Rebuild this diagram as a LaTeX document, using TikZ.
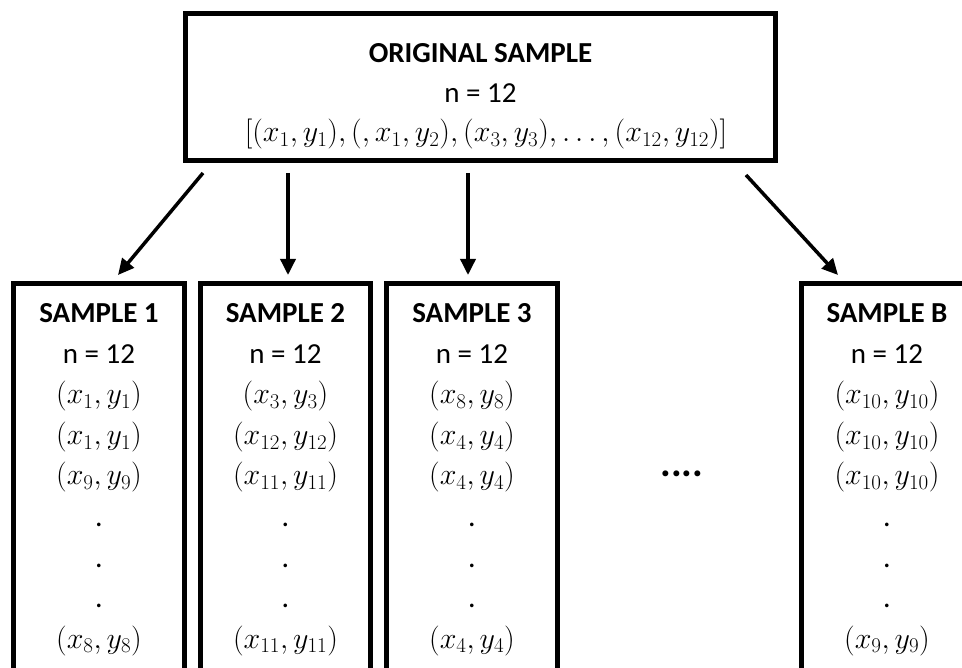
\RequirePackage{fix-cm}
\documentclass[tikz,border=0pt]{standalone}
\usepackage[no-math]{fontspec}
\setmainfont{Carlito}
\usetikzlibrary{arrows.meta}
\newcommand{\tightdots}{\mathinner{.\mkern3mu.\mkern3mu.}}
\begin{document}
\begin{tikzpicture}[x=1pt,y=-1pt,
  box/.style={draw, line width=5pt, rectangle, inner sep=0pt},
  txt/.style={anchor=base, inner sep=0pt, font=\fontsize{29}{35}\selectfont},
  ttl/.style={txt, font=\fontsize{29}{35}\selectfont\bfseries},
  mtxt/.style={anchor=base, inner sep=0pt, font=\fontsize{30}{36}\selectfont},
  arr/.style={line width=3.5pt, -{Triangle[length=16pt,width=15pt]}}]
\useasboundingbox (0,0) rectangle (962,668);
\clip (0,0) rectangle (962,668);

% top box
\node[box, minimum width=589.5pt, minimum height=146.5pt] (top) at (480.5,87.25) {};
\node[ttl] (t1) at (480.5,63) {ORIGINAL SAMPLE};
\node[txt] (t2) at (480.5,103) {n = 12};
\node[mtxt] (t3) at (486,142) {$[(x_1,y_1),(,x_1,y_2),(x_3,y_3),\tightdots,(x_{12},y_{12})]$};

% bottom boxes
\node[box, minimum width=171pt, minimum height=436.5pt] (b1) at (99,501.75) {};
\node[box, minimum width=170pt, minimum height=436.5pt] (b2) at (285.5,501.75) {};
\node[box, minimum width=171pt, minimum height=436.5pt] (b3) at (472,501.75) {};
\node[box, minimum width=171pt, minimum height=436.5pt] (bB) at (887,501.75) {};

% sample 1
\node[ttl] (s1a) at (99,323) {SAMPLE 1};
\node[txt] (s1b) at (99,364) {n = 12};
\node[mtxt] (s1c) at (99,404) {$(x_1,y_1)$};
\node[mtxt] (s1d) at (99,445) {$(x_1,y_1)$};
\node[mtxt] (s1e) at (99,485) {$(x_9,y_9)$};
\node[mtxt] (s1f) at (99,526) {.};
\node[mtxt] (s1g) at (99,567) {.};
\node[mtxt] (s1h) at (99,607) {.};
\node[mtxt] (s1i) at (99,648) {$(x_8,y_8)$};

% sample 2
\node[ttl] (s2a) at (285.5,323) {SAMPLE 2};
\node[txt] (s2b) at (285.5,364) {n = 12};
\node[mtxt] (s2c) at (285.5,404) {$(x_3,y_3)$};
\node[mtxt] (s2d) at (285.5,445) {$(x_{12},y_{12})$};
\node[mtxt] (s2e) at (285.5,485) {$(x_{11},y_{11})$};
\node[mtxt] (s2f) at (285.5,526) {.};
\node[mtxt] (s2g) at (285.5,567) {.};
\node[mtxt] (s2h) at (285.5,607) {.};
\node[mtxt] (s2i) at (285.5,648) {$(x_{11},y_{11})$};

% sample 3
\node[ttl] (s3a) at (472,323) {SAMPLE 3};
\node[txt] (s3b) at (472,364) {n = 12};
\node[mtxt] (s3c) at (472,404) {$(x_8,y_8)$};
\node[mtxt] (s3d) at (472,445) {$(x_4,y_4)$};
\node[mtxt] (s3e) at (472,485) {$(x_4,y_4)$};
\node[mtxt] (s3f) at (472,526) {.};
\node[mtxt] (s3g) at (472,567) {.};
\node[mtxt] (s3h) at (472,607) {.};
\node[mtxt] (s3i) at (472,648) {$(x_4,y_4)$};

% sample B
\node[ttl] (sBa) at (887,323) {SAMPLE B};
\node[txt] (sBb) at (887,364) {n = 12};
\node[mtxt] (sBc) at (887,404) {$(x_{10},y_{10})$};
\node[mtxt] (sBd) at (887,445) {$(x_{10},y_{10})$};
\node[mtxt] (sBe) at (887,485) {$(x_{10},y_{10})$};
\node[mtxt] (sBf) at (887,526) {.};
\node[mtxt] (sBg) at (887,567) {.};
\node[mtxt] (sBh) at (887,607) {.};
\node[mtxt] (sBi) at (887,648) {$(x_9,y_9)$};

% ellipsis
\node[anchor=base, inner sep=0pt, font=\fontsize{40}{48}\selectfont\bfseries] (dots) at (682,476) {....};

% arrows
\coordinate (a1s) at (203,173);
\coordinate (a1e) at (118,275);
\coordinate (a2s) at (288,173);
\coordinate (a2e) at (288,275);
\coordinate (a3s) at (468,173);
\coordinate (a3e) at (468,275);
\coordinate (aBs) at (746,175);
\coordinate (aBe) at (838,275);
\draw[arr] (a1s) -- (a1e);
\draw[arr] (a2s) -- (a2e);
\draw[arr] (a3s) -- (a3e);
\draw[arr] (aBs) -- (aBe);
\end{tikzpicture}
\end{document}
